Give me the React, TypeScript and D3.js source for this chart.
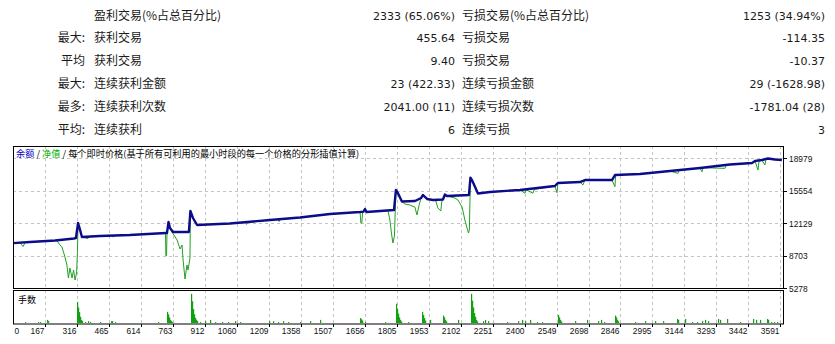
import React from "react";
import * as d3 from "d3";

// ---- stats table ----
const leftPrefix = ["", "最大:", "平均", "最大:", "最多:", "平均:"];
const leftLabel = ["盈利交易(%占总百分比)", "获利交易", "获利交易", "连续获利金额", "连续获利次数", "连续获利"];
const leftValue = ["2333 (65.06%)", "455.64", "9.40", "23 (422.33)", "2041.00 (11)", "6"];
const rightLabel = ["亏损交易(%占总百分比)", "亏损交易", "亏损交易", "连续亏损金额", "连续亏损次数", "连续亏损"];
const rightValue = ["1253 (34.94%)", "-114.35", "-10.37", "29 (-1628.98)", "-1781.04 (28)", "3"];

// ---- axes ----
const xTicks = [0, 167, 316, 465, 614, 763, 912, 1060, 1209, 1358, 1507, 1656, 1805, 1953, 2102, 2251, 2400, 2549, 2698, 2846, 2995, 3144, 3293, 3442, 3591];
const yTicks = [5278, 8703, 12129, 15554, 18979];

// ---- series: [trade #, value] ----
const balance: [number, number][] = [
  [0, 10000], [97, 10140], [214, 10300], [302, 10510], [311, 10560], [321, 12150], [328, 11620], [339, 10670],
  [423, 10780], [562, 10880], [730, 11090], [735, 11090], [742, 12250], [749, 11620], [763, 11200], [837, 11200],
  [844, 13420], [856, 12680], [875, 11940], [1028, 12100], [1215, 12470], [1354, 12730], [1494, 13100], [1634, 13310],
  [1650, 13350], [1657, 13630], [1664, 13320], [1792, 13520], [1801, 15640], [1810, 15320], [1829, 14420], [1890, 14474],
  [1918, 14790], [1927, 15110], [1946, 14690], [1974, 14580], [2020, 14630], [2029, 15160], [2038, 15000], [2141, 15110],
  [2148, 16940], [2155, 16690], [2183, 15270], [2239, 15430], [2379, 15640], [2541, 16060], [2555, 16380], [2658, 16480],
  [2681, 16690], [2807, 16690], [2821, 17220], [2937, 17330], [3077, 17650], [3217, 17960], [3356, 18330], [3459, 18490],
  [3473, 18700], [3505, 18810], [3533, 18970], [3566, 18860], [3598, 18810],
];

const equity: [number, number][] = [
  [0, 10000], [40, 10070], [51, 10100], [58, 9850], [65, 9665], [75, 10100], [97, 10140], [150, 10220], [214, 10300],
  [223, 10246], [237, 9823], [246, 9612], [260, 8555], [269, 7709], [276, 6335], [283, 7392], [293, 6335], [300, 7180],
  [307, 6124], [314, 6864], [318, 9000], [321, 12150], [328, 11620], [339, 10670],
  [367, 10500], [372, 10730], [423, 10780], [480, 10830], [485, 10650], [490, 10840], [562, 10880], [650, 10990],
  [728, 11090], [730, 8660], [733, 8700], [735, 11090], [742, 12250], [749, 11620], [758, 11200],
  [782, 10350], [796, 9400], [805, 9823], [810, 8240], [819, 6230], [828, 7710], [833, 7180], [842, 8450],
  [844, 13420], [856, 12680], [875, 11940],
  [1028, 12100], [1100, 12200], [1105, 12000], [1110, 12220], [1215, 12470], [1252, 12520], [1257, 12300], [1262, 12540],
  [1354, 12730], [1494, 13100], [1600, 13270], [1634, 13310], [1638, 12120], [1642, 12150], [1646, 13330], [1657, 13630],
  [1670, 13320], [1764, 13460], [1773, 12470], [1780, 11090], [1787, 10035], [1794, 10770], [1801, 15640], [1810, 15320],
  [1829, 14420], [1843, 14157], [1866, 14050], [1889, 13840], [1899, 13000], [1908, 13950], [1918, 14790], [1927, 15110],
  [1946, 14690], [1974, 14580], [1987, 14470], [1996, 13740], [2010, 13420], [2015, 14470], [2020, 14630], [2029, 15160],
  [2038, 15000], [2076, 14790], [2090, 14580], [2109, 13840], [2122, 12470], [2132, 11620], [2139, 11090], [2143, 11410],
  [2148, 16940], [2155, 16690], [2183, 15270],
  [2239, 15430], [2379, 15640], [2402, 15290], [2408, 15650], [2439, 15290], [2445, 15700], [2541, 16060], [2551, 15350],
  [2555, 16380], [2658, 16480], [2672, 16170], [2681, 16690], [2807, 16690], [2821, 15990], [2824, 17220], [2937, 17330],
  [3077, 17650], [3114, 17400], [3120, 17700], [3217, 17960], [3226, 17570], [3232, 17990], [3333, 17930], [3340, 18300],
  [3356, 18330], [3459, 18490], [3473, 18700], [3487, 17750], [3492, 18720], [3505, 18810], [3519, 18280], [3524, 18900],
  [3533, 18970], [3566, 18860], [3598, 18810],
];

const volume: [number, number][] = [
  [74, 0.03], [134, 0.03], [144, 0.03], [176, 0.1], [181, 0.06],
  [316, 0.68], [321, 0.5], [325, 0.35], [330, 0.2], [335, 0.1], [339, 0.06], [353, 0.03], [367, 0.06], [376, 0.03],
  [423, 0.03], [474, 0.06], [479, 0.06], [493, 0.03],
  [693, 0.03], [735, 0.36], [740, 0.28], [744, 0.18], [749, 0.1], [754, 0.06], [758, 0.03],
  [847, 0.94], [851, 0.7], [856, 0.45], [861, 0.28], [865, 0.16], [870, 0.1], [875, 0.06],
  [889, 0.03], [912, 0.06], [935, 0.1], [958, 0.03], [991, 0.03], [1019, 0.03], [1052, 0.06], [1075, 0.03],
  [1210, 0.06], [1229, 0.06], [1252, 0.03], [1275, 0.06], [1298, 0.03], [1354, 0.03], [1401, 0.06], [1447, 0.1],
  [1634, 0.16], [1638, 0.12], [1643, 0.08], [1657, 0.03], [1750, 0.03],
  [1801, 0.62], [1806, 0.45], [1810, 0.3], [1815, 0.18], [1820, 0.1], [1824, 0.05], [1857, 0.03],
  [1922, 0.36], [1927, 0.26], [1932, 0.16], [1936, 0.08], [1960, 0.1],
  [2020, 0.24], [2025, 0.18], [2029, 0.1], [2034, 0.05], [2090, 0.1],
  [2150, 0.94], [2155, 0.72], [2159, 0.5], [2164, 0.32], [2169, 0.2], [2173, 0.1], [2178, 0.05],
  [2206, 0.06], [2215, 0.1], [2229, 0.06], [2318, 0.03], [2369, 0.06], [2388, 0.1], [2402, 0.06], [2425, 0.1], [2458, 0.03], [2481, 0.03],
  [2556, 0.26], [2560, 0.18], [2565, 0.1], [2570, 0.05], [2635, 0.06], [2690, 0.1], [2742, 0.06], [2756, 0.1], [2770, 0.03],
  [2821, 0.24], [2826, 0.18], [2830, 0.1], [2835, 0.05], [2914, 0.03], [2961, 0.06], [3007, 0.06], [3044, 0.06],
  [3110, 0.13], [3114, 0.1], [3147, 0.13], [3179, 0.03], [3203, 0.03], [3226, 0.06], [3240, 0.1], [3254, 0.06],
  [3300, 0.13], [3310, 0.1], [3342, 0.13], [3403, 0.03], [3463, 0.13], [3477, 0.1], [3496, 0.1], [3529, 0.13],
  [3533, 0.1], [3547, 0.03], [3561, 0.03], [3575, 0.03],
];

const CJK = "'Noto Sans CJK SC', sans-serif";
const NUM = "'DejaVu Sans', sans-serif";
const AX = "'Liberation Sans', sans-serif";

export default function App() {
  const W = 835, H = 344;
  const L = 13, R = 784, T = 146, B = 288, VT = 290, VB = 324;
  const x = d3.scaleLinear().domain([18, 3608]).range([L, R]);
  const y = d3.scaleLinear().domain([5278, 20290]).range([B, T]);
  const yv = d3.scaleLinear().domain([0, 1]).range([VB - 1, VT + 2]);
  const line = d3.line<[number, number]>().x((d) => x(d[0])).y((d) => y(d[1]));
  const grid = "#c4c4c4";
  const textCol = "#1a1a1a";
  const rowY = (i: number) => 19.5 + i * 22.9;

  return (
    <svg width={W} height={H} style={{ position: "absolute", left: 0, top: 0, background: "#fff" }}>
      <defs>
        <clipPath id="mainClip">
          <rect x={L} y={T} width={R - L} height={B - T} />
        </clipPath>
      </defs>
      {/* stats */}
      {leftLabel.map((lab, i) => (
        <g key={"r" + i} fill={textCol}>
          <text x={85} y={rowY(i)} fontFamily={CJK} fontSize={12} textAnchor="end">{leftPrefix[i]}</text>
          <text x={94} y={rowY(i)} fontFamily={CJK} fontSize={12}>{lab}</text>
          <text x={455} y={rowY(i)} fontFamily={NUM} fontSize={11} textAnchor="end">{leftValue[i]}</text>
          <text x={462} y={rowY(i)} fontFamily={CJK} fontSize={12}>{rightLabel[i]}</text>
          <text x={825} y={rowY(i)} fontFamily={NUM} fontSize={11} textAnchor="end">{rightValue[i]}</text>
        </g>
      ))}

      {/* grids */}
      {xTicks.filter((v) => v > 0).map((v) => (
        <g key={"gx" + v}>
          <line x1={Math.round(x(v)) + 0.5} x2={Math.round(x(v)) + 0.5} y1={T} y2={B} stroke={grid} strokeDasharray="3,3" />
          <line x1={Math.round(x(v)) + 0.5} x2={Math.round(x(v)) + 0.5} y1={VT} y2={VB} stroke={grid} strokeDasharray="3,3" />
          <line x1={Math.round(x(v)) + 0.5} x2={Math.round(x(v)) + 0.5} y1={VB} y2={VB + 3} stroke="#000" />
        </g>
      ))}
      {yTicks.filter((v) => v > 5278).map((v) => (
        <line key={"gy" + v} x1={L} x2={R} y1={Math.round(y(v)) + 0.5} y2={Math.round(y(v)) + 0.5} stroke={grid} strokeDasharray="3,3" />
      ))}

      {/* title */}
      <text x={16} y={157} fontFamily={CJK} fontSize={9.2} fill="#000">
        <tspan fill="#0000c8">余额</tspan>
        <tspan> / </tspan>
        <tspan fill="#00b000">净值</tspan>
        <tspan> / 每个即时价格(基于所有可利用的最小时段的每一个价格的分形插值计算)</tspan>
      </text>

      {/* series */}
      <g clipPath="url(#mainClip)">
        <path d={line(equity) || ""} fill="none" stroke="#22a022" strokeWidth={1} />
        <path d={line(balance) || ""} fill="none" stroke="#0c0c8a" strokeWidth={2.4} strokeLinejoin="round" />
      </g>

      {/* volume */}
      <text x={18} y={303} fontFamily={CJK} fontSize={9} fill="#000">手数</text>
      {volume.map((d, i) => (
        <rect key={"v" + i} x={Math.round(x(d[0]))} y={yv(d[1])} width={1.2} height={yv(0) - yv(d[1])} fill="#10a010" />
      ))}

      {/* frames */}
      <rect x={L + 0.5} y={T + 0.5} width={R - L - 1} height={B - T} fill="none" stroke="#000" />
      <rect x={L + 0.5} y={VT + 0.5} width={R - L - 1} height={VB - VT - 0.5} fill="none" stroke="#000" />

      {/* y axis */}
      {yTicks.map((v) => (
        <g key={"yt" + v}>
          <line x1={R} x2={R + 3} y1={Math.round(y(v)) + 0.5} y2={Math.round(y(v)) + 0.5} stroke="#000" />
          <text x={789} y={y(v) + 3.6} fontFamily={AX} fontSize={8.4} fill="#111">{v}</text>
        </g>
      ))}

      {/* x axis */}
      {xTicks.map((v) => (
        <text key={"xt" + v} x={v === 0 ? L + 1.5 : Math.round(x(v)) - 0.5} y={334} fontFamily={AX} fontSize={8.4} fill="#111" textAnchor={v === 0 ? "start" : "end"}>{v}</text>
      ))}
    </svg>
  );
}
